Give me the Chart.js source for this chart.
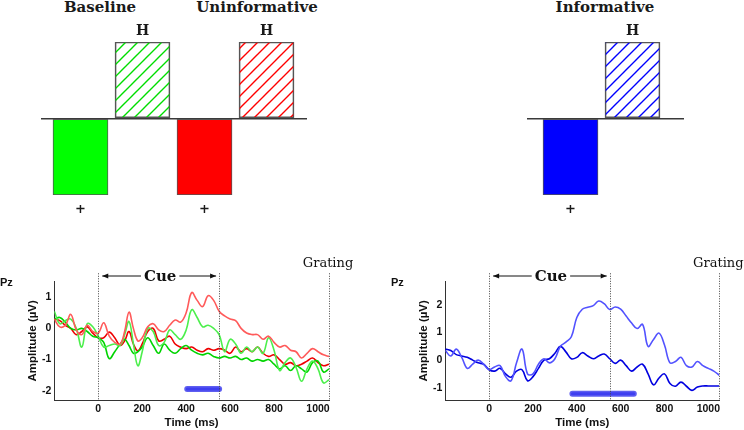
<!DOCTYPE html>
<html>
<head>
<title>Cue ERP at Pz</title>
<script src="https://cdn.jsdelivr.net/npm/chart.js"></script>
<style>
    body { margin: 0; background: #fff; }
    #fig { position: relative; width: 744px; height: 430px; overflow: hidden; }
    #fig canvas { position: absolute; }
    .cond { position: absolute; top: 0; font: bold 15px "DejaVu Serif"; line-height: 15px; color: #1a1a1a;
            transform: translateX(-50%); white-space: nowrap; }
</style>
</head>
<body>
<div id="fig">
    <div class="cond" style="left:100px">Baseline</div>
    <div class="cond" style="left:257px">Uninformative</div>
    <div class="cond" style="left:605px">Informative</div>
    <canvas id="barsLeft" width="340" height="230" style="left:0;top:0;width:340px;height:230px"></canvas>
    <canvas id="barsRight" width="372" height="230" style="left:372px;top:0;width:372px;height:230px"></canvas>
    <canvas id="erpLeft" width="360" height="190" style="left:0;top:240px;width:360px;height:190px"></canvas>
    <canvas id="erpRight" width="353" height="190" style="left:391px;top:240px;width:353px;height:190px"></canvas>
</div>
<script>
    // schematic bars (top row)
    const leftBarPos = [1, 2, 3, 4];
    const leftBarVals = [-1, 1, -1, 1];
    const leftBarMarks = ['+', 'H', '+', 'H'];
    const rightBarPos = [1, 2];
    const rightBarVals = [-1, 1];
    const rightBarMarks = ['+', 'H'];

    // ERP traces (bottom row), time in ms, amplitude in µV
    const timeL = [-200,-175,-150,-125,-100,-75,-50,-25,0,25,50,75,100,120,140,160,180,200,
        225,250,275,300,325,350,375,400,425,450,475,500,525,550,575,600,625,650,675,700,
        725,750,775,800,825,850,875,900,925,950,975,1000,1025,1050];
    const uninfLight = [0.3,0.05,0.1,0.45,-0.05,-0.2,0.1,-0.1,-0.15,0.18,-0.25,-0.45,-0.5,-0.1,0.52,0.0,-0.4,-0.3,
        0.05,0.15,-0.05,-0.1,0.1,0.27,0.2,0.5,1.15,0.9,0.7,1.05,0.9,0.55,0.4,0.3,0.25,0.0,-0.15,-0.2,
        -0.2,-0.35,-0.25,-0.45,-0.6,-0.55,-0.7,-0.75,-0.95,-0.8,-0.65,-0.75,-0.85,-0.9];
    const uninfDark = [0.3,0.25,0.1,0.0,-0.2,-0.1,0.05,-0.15,-0.3,-0.3,-0.12,-0.3,-0.55,-0.4,-0.1,-0.5,-0.72,-0.5,
        -0.1,0.0,-0.4,-0.35,-0.25,-0.5,-0.6,-0.65,-0.6,-0.7,-0.75,-0.65,-0.7,-0.65,-0.7,-0.8,-0.6,-0.75,-0.65,-0.75,
        -0.6,-0.8,-0.9,-0.85,-1.0,-1.15,-1.1,-1.2,-1.15,-1.05,-0.95,-1.1,-1.2,-1.15];
    const baseLight = [0.55,0.15,0.25,0.3,0.0,-0.6,0.15,0.05,-0.25,-0.6,-0.55,-0.5,-0.55,-0.2,0.22,-0.5,-1.2,-0.75,
        0.0,-0.1,-0.55,-0.45,-0.05,-0.2,-0.35,-0.05,0.6,0.35,0.05,0.1,0.0,-0.2,-0.75,-0.35,-0.5,-0.8,-0.6,-0.75,
        -0.6,-0.8,-0.3,-0.7,-1.35,-1.1,-0.95,-1.25,-1.7,-1.3,-1.05,-1.3,-1.75,-1.65];
    const baseDark = [0.3,0.35,0.2,0.0,-0.05,0.0,-0.1,-0.25,-0.3,-0.45,-0.97,-0.75,-0.5,-0.35,-0.55,-0.8,-0.75,-0.6,
        -0.3,-0.55,-0.8,-0.5,-0.7,-0.8,-0.65,-0.55,-0.7,-0.8,-0.85,-0.8,-0.9,-0.95,-0.9,-0.95,-0.9,-1.0,-0.95,-1.05,
        -1.0,-1.05,-1.0,-1.15,-1.3,-1.2,-1.35,-1.2,-1.3,-1.4,-1.1,-1.05,-1.4,-1.3];

    const timeR = [-200,-175,-150,-125,-100,-75,-50,-25,0,25,50,75,100,125,150,175,200,225,250,275,300,
        325,350,375,400,425,450,475,500,525,550,575,600,625,650,675,700,725,750,775,800,
        825,850,875,900,925,950,975,1000,1025,1050];
    const infLight = [0.35,0.15,0.4,0.1,-0.3,-0.15,0.0,-0.15,-0.35,-0.25,-0.2,-0.6,-0.75,-0.1,0.4,-0.5,-0.5,-0.15,0.05,-0.1,0.05,
        0.5,0.65,0.85,1.55,1.85,1.92,1.98,2.15,2.05,1.84,1.93,1.85,1.6,1.35,1.15,1.3,0.5,0.75,0.98,0.55,
        -0.1,-0.05,0.1,-0.2,-0.25,-0.05,-0.2,-0.3,-0.4,-0.55];
    const infDark = [0.4,0.35,0.2,0.15,0.1,0.0,-0.1,-0.15,-0.35,-0.4,-0.3,-0.5,-0.62,-0.4,-0.35,-0.75,-0.6,-0.3,0.0,0.05,0.25,
        0.5,0.3,0.05,0.1,0.27,0.15,0.05,0.15,0.22,0.05,-0.12,0.0,-0.2,-0.4,-0.25,-0.15,-0.5,-0.9,-0.65,-0.5,
        -0.85,-0.95,-0.8,-0.95,-1.1,-0.98,-0.94,-0.94,-0.94,-0.94];

    // significant windows (ms) and the level they are drawn at
    const sigTimesL = [405, 550];
    const sigLevelL = -1.95;
    const sigTimesR = [380, 660];
    const sigLevelR = -1.22;

    const timeTicks = [0, 200, 400, 600, 800, 1000];
    const ampTicksL = [-2, -1, 0, 1];
    const ampTicksR = [-1, 0, 1, 2];
    const eventTimes = [0, 550, 1050];
    const cueWindow = [0, 550];

    function hatch(canvas, color) {
        const tile = document.createElement('canvas');
        tile.width = tile.height = 12;
        const g = tile.getContext('2d');
        g.strokeStyle = color;
        g.lineWidth = 1.4;
        g.beginPath();
        g.moveTo(-1, 13); g.lineTo(13, -1);
        g.moveTo(-7, 7); g.lineTo(7, -7);
        g.moveTo(5, 19); g.lineTo(19, 5);
        g.stroke();
        return canvas.getContext('2d').createPattern(tile, 'repeat');
    }

    // draws the H / + under or over each schematic bar
    const barMarks = {
        id: 'barMarks',
        afterDatasetsDraw(chart) {
            const ctx = chart.ctx;
            const marks = chart.data.datasets[0].marks;
            ctx.save();
            ctx.fillStyle = '#1a1a1a';
            ctx.textAlign = 'center';
            ctx.textBaseline = 'middle';
            chart.getDatasetMeta(0).data.forEach((bar, i) => {
                const up = chart.data.datasets[0].data[i].y > 0;
                ctx.font = up ? 'bold 14px "DejaVu Serif"' : 'bold 13px "DejaVu Serif"';
                ctx.fillText(marks[i], bar.x, up ? bar.y - 11 : bar.y + 15);
            });
            ctx.restore();
        }
    };

    function barChart(id, pos, vals, marks, colors, xMin, xMax, pad) {
        const el = document.getElementById(id);
        const fills = vals.map((v, i) => v > 0 ? hatch(el, colors[i]) : colors[i]);
        return new Chart(el, {
            type: 'bar',
            data: {
                datasets: [{
                    data: pos.map((p, i) => ({ x: p, y: vals[i] })),
                    marks: marks,
                    backgroundColor: fills,
                    borderColor: '#555',
                    borderWidth: 1,
                    borderSkipped: false,
                    barThickness: 55
                }]
            },
            options: {
                responsive: false,
                animation: false,
                events: [],
                layout: { padding: pad },
                plugins: { legend: { display: false }, tooltip: { enabled: false } },
                scales: {
                    x: { type: 'linear', min: xMin, max: xMax, offset: false, display: false },
                    y: {
                        min: -1, max: 1,
                        ticks: { display: false, stepSize: 1 },
                        border: { display: false },
                        grid: {
                            drawTicks: false,
                            lineWidth: 1.5,
                            color: c => (c.tick && c.tick.value === 0) ? '#3a3a3a' : 'rgba(0,0,0,0)'
                        },
                        afterFit: s => { s.width = 0; }
                    }
                }
            },
            plugins: [barMarks]
        });
    }

    barChart('barsLeft', leftBarPos, leftBarVals, leftBarMarks,
        ['#00ff00', '#00dd00', '#ff0000', '#ff0000'], 0.363, 4.653,
        { left: 41, right: 33, top: 42, bottom: 35 });
    barChart('barsRight', rightBarPos, rightBarVals, rightBarMarks,
        ['#0000ff', '#0000ff'], 0.298, 2.831,
        { left: 155, right: 60, top: 42, bottom: 35 });

    // event lines, cue arrow and labels above the ERP plots
    const erpMarks = {
        id: 'erpMarks',
        afterDraw(chart) {
            const { ctx, chartArea } = chart;
            const x = chart.scales.x;
            const top = chartArea.top;
            ctx.save();
            ctx.strokeStyle = '#444';
            ctx.lineWidth = 1;
            ctx.setLineDash([1, 1.5]);
            eventTimes.forEach(t => {
                const px = Math.round(x.getPixelForValue(t)) + 0.5;
                ctx.beginPath();
                ctx.moveTo(px, top - 8.4);
                ctx.lineTo(px, chartArea.bottom);
                ctx.stroke();
            });
            ctx.setLineDash([]);

            const x0 = x.getPixelForValue(cueWindow[0]) + 4;
            const x1 = x.getPixelForValue(cueWindow[1]) - 3;
            const ay = top - 5.7;
            const mid = (x0 + x1) / 2 + 1;
            ctx.font = 'bold 15px "DejaVu Serif"';
            const tw = ctx.measureText('Cue').width;
            ctx.strokeStyle = '#111';
            ctx.fillStyle = '#111';
            ctx.beginPath();
            ctx.moveTo(x0, ay); ctx.lineTo(mid - tw / 2 - 3, ay);
            ctx.moveTo(mid + tw / 2 + 3, ay); ctx.lineTo(x1, ay);
            ctx.stroke();
            ctx.beginPath();
            ctx.moveTo(x0, ay); ctx.lineTo(x0 + 6, ay - 2.5); ctx.lineTo(x0 + 6, ay + 2.5); ctx.closePath();
            ctx.moveTo(x1, ay); ctx.lineTo(x1 - 6, ay - 2.5); ctx.lineTo(x1 - 6, ay + 2.5); ctx.closePath();
            ctx.fill();
            ctx.textAlign = 'center';
            ctx.textBaseline = 'alphabetic';
            ctx.fillText('Cue', mid, ay + 4.7);

            ctx.font = '13px "DejaVu Serif"';
            ctx.fillText('Grating', x.getPixelForValue(eventTimes[2]) - 1, top - 15);

            ctx.font = 'bold 11px "Liberation Sans"';
            ctx.textAlign = 'left';
            ctx.textBaseline = 'middle';
            ctx.fillText('Pz', 0, top + 1);
            ctx.restore();
        }
    };

    function erpChart(id, lines, sigTimes, sigLevel, yMin, yMax, yTicks, padRight) {
        const datasets = lines.map(l => ({
            data: l.t.map((t, i) => ({ x: t, y: l.v[i] })),
            borderColor: l.c,
            borderWidth: 1.6,
            pointRadius: 0,
            tension: 0.4
        }));
        // significance bar: darker rim with a lighter core
        const sigData = sigTimes.map(t => ({ x: t, y: sigLevel }));
        datasets.push({ data: sigData, borderColor: 'rgba(40,40,235,0.75)', borderWidth: 6, borderCapStyle: 'round', pointRadius: 0 });
        datasets.push({ data: sigData, borderColor: 'rgba(120,120,255,0.9)', borderWidth: 3, borderCapStyle: 'round', pointRadius: 0 });
        const tickFont = { family: 'Liberation Sans', weight: 'bold', size: 10.5 };
        const titleFont = { family: 'Liberation Sans', weight: 'bold', size: 11.5 };
        return new Chart(document.getElementById(id), {
            type: 'line',
            data: { datasets },
            options: {
                responsive: false,
                animation: false,
                events: [],
                layout: { padding: { top: 41.7, right: padRight, left: 0, bottom: 0 } },
                plugins: { legend: { display: false }, tooltip: { enabled: false } },
                scales: {
                    x: {
                        type: 'linear', min: -200, max: 1050,
                        afterBuildTicks: s => { s.ticks = timeTicks.map(v => ({ value: v })); },
                        ticks: { callback: v => String(v), color: '#111', font: tickFont, padding: 3, maxRotation: 0, autoSkip: false },
                        grid: { display: false, drawTicks: false },
                        border: { color: '#333' },
                        title: { display: true, text: 'Time (ms)', color: '#111', font: titleFont, padding: { top: 0, bottom: 0 } },
                        afterFit: s => { s.height = 30; }
                    },
                    y: {
                        min: yMin, max: yMax,
                        afterBuildTicks: s => { s.ticks = yTicks.map(v => ({ value: v })); },
                        ticks: { callback: v => String(v), color: '#111', font: tickFont, padding: 3 },
                        grid: { display: false, drawTicks: false },
                        border: { color: '#333' },
                        title: { display: true, text: 'Amplitude (µV)', color: '#111', font: titleFont, padding: { top: 26, bottom: 0 } },
                        afterFit: s => { s.width = 54.3; }
                    }
                }
            },
            plugins: [erpMarks]
        });
    }

    erpChart('erpLeft', [
        { t: timeL, v: uninfLight, c: '#ff5a5a' },
        { t: timeL, v: baseLight, c: '#4cef4c' },
        { t: timeL, v: baseDark, c: '#00d400' },
        { t: timeL, v: uninfDark, c: '#ee0000' }
    ], sigTimesL, sigLevelL, -2.3, 1.5, ampTicksL, 31);

    erpChart('erpRight', [
        { t: timeR, v: infLight, c: '#5252ff' },
        { t: timeR, v: infDark, c: '#0000e0' }
    ], sigTimesR, sigLevelR, -1.45, 2.85, ampTicksR, 24.7);
</script>
</body>
</html>
